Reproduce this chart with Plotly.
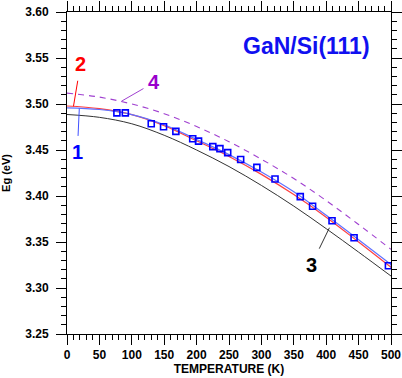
import plotly.graph_objects as go

# ---- data ----
T_curve = [0, 50, 100, 150, 200, 250, 300, 350, 400, 450, 500]
Eg_fit1 = [3.4958, 3.4940, 3.4885, 3.4775, 3.4615, 3.4450, 3.4260, 3.4045, 3.3790, 3.3525, 3.3255]
Eg_fit2 = [3.4978, 3.4950, 3.4885, 3.4765, 3.4600, 3.4430, 3.4235, 3.4015, 3.3770, 3.3500, 3.3225]
Eg_fit3 = [3.4886, 3.4855, 3.4785, 3.4660, 3.4500, 3.4320, 3.4115, 3.3890, 3.3645, 3.3390, 3.3130]
Eg_fit4 = [3.5118, 3.5075, 3.5000, 3.4895, 3.4755, 3.4590, 3.4400, 3.4190, 3.3950, 3.3690, 3.3420]

T_meas = [77, 90, 130, 149, 168, 194, 203, 225, 236, 248, 268, 293, 321, 360, 379, 409, 443, 496]
Eg_meas = [3.4904, 3.4904, 3.4785, 3.4753, 3.4702, 3.4623, 3.4597, 3.4537, 3.4515, 3.4472,
           3.4397, 3.4311, 3.4184, 3.3993, 3.3889, 3.3731, 3.3547, 3.3242]

x_ticks = [0, 50, 100, 150, 200, 250, 300, 350, 400, 450, 500]
y_ticks = [3.25, 3.30, 3.35, 3.40, 3.45, 3.50, 3.55, 3.60]
y_tick_labels = ["3.25", "3.30", "3.35", "3.40", "3.45", "3.50", "3.55", "3.60"]

FONT = "Arial, Liberation Sans, sans-serif"

fig = go.Figure()
fig.add_trace(go.Scatter(x=T_curve, y=Eg_fit3, mode="lines", line=dict(color="#333333", width=1, shape="spline")))
fig.add_trace(go.Scatter(x=T_curve, y=Eg_fit4, mode="lines",
                         line=dict(color="#a040d0", width=1.1, dash="6px,5px", shape="spline")))
fig.add_trace(go.Scatter(x=T_curve, y=Eg_fit2, mode="lines", line=dict(color="#ff4040", width=1.2, shape="spline")))
fig.add_trace(go.Scatter(x=T_curve, y=Eg_fit1, mode="lines", line=dict(color="#6070ff", width=1.2, shape="spline")))
fig.add_trace(go.Scatter(x=T_meas, y=Eg_meas, mode="markers",
                         marker=dict(symbol="square-open", size=6, color="#0000ff", line=dict(width=1.6, color="#0000ff"))))

axis_common = dict(
    showline=True, linecolor="black", linewidth=1, mirror="ticks",
    ticks="outside", ticklen=10, tickwidth=1, tickcolor="black",
    showgrid=False, zeroline=False, automargin=False,
    tickfont=dict(family=FONT, size=12, color="black", weight="bold"),
)

fig.update_xaxes(range=[0, 500], tickvals=x_ticks,
                 minor=dict(dtick=10, ticklen=5, ticks="outside", tickcolor="black", showgrid=False),
                 title=dict(text="TEMPERATURE (K)", font=dict(family=FONT, size=12, color="black", weight="bold"),
                            standoff=2),
                 **axis_common)
fig.update_yaxes(range=[3.25, 3.60], tickvals=y_ticks, ticktext=y_tick_labels, ticklabelstandoff=5,
                 minor=dict(dtick=0.01, ticklen=5, ticks="outside", tickcolor="black", showgrid=False),
                 title=dict(text="Eg (eV)", font=dict(family=FONT, size=11, color="black", weight="bold"),
                            standoff=12),
                 **axis_common)

ann_font = dict(family=FONT, size=20, weight="bold")
fig.update_layout(
    width=402, height=378,
    margin=dict(l=67, r=11, t=12, b=44, autoexpand=False),
    paper_bgcolor="white", plot_bgcolor="white",
    showlegend=False,
    annotations=[
        dict(x=10, y=3.4975, text="2", font=dict(color="#ff0000", **ann_font), showarrow=True,
             arrowhead=0, arrowwidth=1, arrowcolor="#ff0000", ax=7, ay=-42, startstandoff=4),
        dict(x=19, y=3.4952, text="1", font=dict(color="#0000ff", **ann_font), showarrow=True,
             arrowhead=0, arrowwidth=1, arrowcolor="#4050ff", ax=-2, ay=44, startstandoff=4),
        dict(x=84, y=3.5030, text="4", font=dict(color="#9900cc", **ann_font), showarrow=True,
             arrowhead=0, arrowwidth=1, arrowcolor="#a040d0", ax=33, ay=-19, startstandoff=4),
        dict(x=405, y=3.3655, text="3", font=dict(color="black", **ann_font), showarrow=True,
             arrowhead=0, arrowwidth=1, arrowcolor="#333333", ax=-18, ay=37, startstandoff=4),
        dict(x=0.738, y=0.893, xref="paper", yref="paper", xanchor="center", yanchor="middle",
             text="GaN/Si(111)", showarrow=False,
             font=dict(family=FONT, size=23, color="#1010f0", weight="bold")),
    ],
)

fig.write_html("out.html", config={"displayModeBar": False},
               post_script="document.body.style.margin='0';")
